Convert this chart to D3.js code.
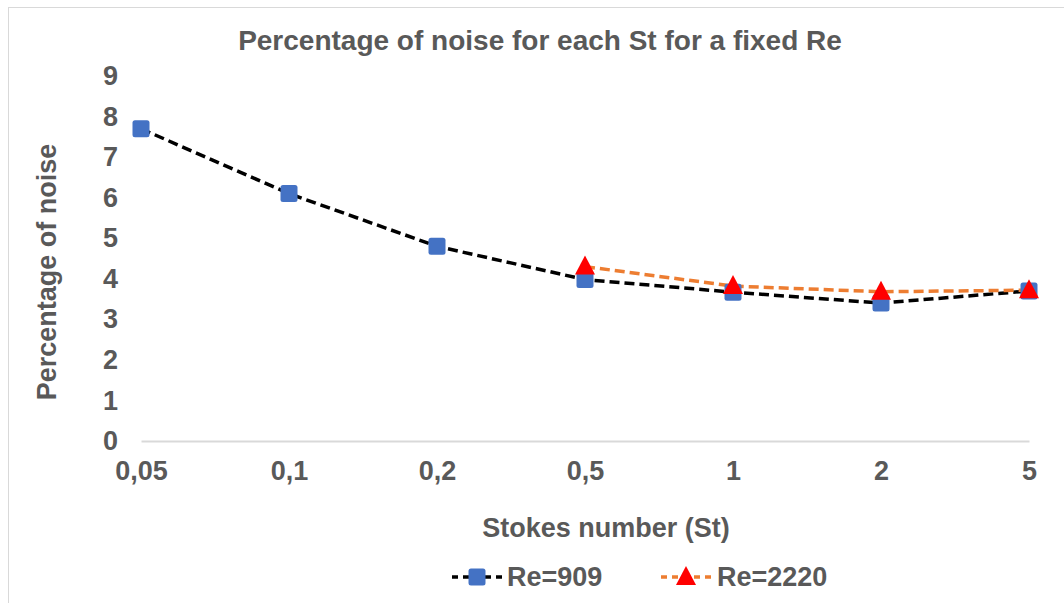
<!DOCTYPE html>
<html>
<head>
<meta charset="utf-8">
<script src="https://cdn.jsdelivr.net/npm/d3@7"></script>
<style>
  html, body { margin: 0; padding: 0; background: #fff; }
  svg { display: block; font-family: "Liberation Sans", Arial, sans-serif; }
</style>
</head>
<body>
<svg id="chart" width="1064" height="603"></svg>
<script>
// Stokes number categories (x axis)
const categories = ["0,05", "0,1", "0,2", "0,5", "1", "2", "5"];
// Percentage of noise, Re = 909
const re909 = [7.7, 6.1, 4.8, 3.98, 3.67, 3.4, 3.7];
// Percentage of noise, Re = 2220 (measured from St = 0.5 on)
const re2220 = [null, null, null, 4.3, 3.82, 3.68, 3.72];
// Y axis ticks
const yTicks = [0, 1, 2, 3, 4, 5, 6, 7, 8, 9];

const textColor = "#595959";
const fontSize = 27;
const svg = d3.select("#chart");

// chart frame
svg.append("rect")
  .attr("x", 8.5).attr("y", 7.5)
  .attr("width", 1064).attr("height", 603)
  .attr("fill", "#fff").attr("stroke", "#d9d9d9").attr("stroke-width", 1);

const x = d3.scalePoint().domain(categories).range([141, 1029]);
const y = d3.scaleLinear().domain([0, 9]).range([441, 76]);

// title
svg.append("text")
  .attr("x", 540).attr("y", 50)
  .attr("text-anchor", "middle")
  .attr("font-size", 28).attr("font-weight", "bold")
  .attr("fill", textColor)
  .text("Percentage of noise for each St for a fixed Re");

// y axis (labels only)
const yAxis = svg.append("g")
  .attr("transform", "translate(125,0)")
  .call(d3.axisLeft(y).tickValues(yTicks).tickSize(0).tickPadding(7).tickFormat(d3.format("d")));
yAxis.select(".domain").remove();
yAxis.selectAll("text")
  .attr("font-size", fontSize).attr("font-weight", "bold")
  .attr("fill", textColor).attr("font-family", "Liberation Sans, Arial, sans-serif");

// x axis with baseline
const xAxis = svg.append("g")
  .attr("transform", `translate(0,${y(0)})`)
  .call(d3.axisBottom(x).tickSize(0).tickPadding(20));
xAxis.select(".domain").attr("stroke", "#d9d9d9").attr("stroke-width", 2);
xAxis.selectAll("text")
  .attr("font-size", fontSize).attr("font-weight", "bold")
  .attr("fill", textColor).attr("font-family", "Liberation Sans, Arial, sans-serif");

// axis titles
svg.append("text")
  .attr("transform", "translate(56,272) rotate(-90)")
  .attr("text-anchor", "middle")
  .attr("font-size", fontSize).attr("font-weight", "bold")
  .attr("fill", textColor)
  .text("Percentage of noise");

svg.append("text")
  .attr("x", 606).attr("y", 537)
  .attr("text-anchor", "middle")
  .attr("font-size", fontSize).attr("font-weight", "bold")
  .attr("fill", textColor)
  .text("Stokes number (St)");

const series = [
  { name: "Re=909", values: re909, line: "#000000", marker: "square", fill: "#4472C4" },
  { name: "Re=2220", values: re2220, line: "#ED7D31", marker: "triangle", fill: "#FF0000" }
];

const line = d3.line()
  .defined(d => d.v != null)
  .x(d => x(d.c))
  .y(d => y(d.v));

function drawMarker(g, s, cx, cy) {
  if (s.marker === "square") {
    g.append("rect")
      .attr("x", cx - 8.5).attr("y", cy - 8.5)
      .attr("width", 17).attr("height", 17)
      .attr("rx", 2.5)
      .attr("fill", s.fill);
  } else {
    g.append("path")
      .attr("d", `M${cx},${cy - 11}L${cx + 10},${cy + 8}L${cx - 10},${cy + 8}Z`)
      .attr("fill", s.fill);
  }
}

// lines first, then markers on top
series.forEach(s => {
  const pts = categories.map((c, i) => ({ c, v: s.values[i] }));
  svg.append("path")
    .datum(pts)
    .attr("d", line)
    .attr("fill", "none")
    .attr("stroke", s.line)
    .attr("stroke-width", 3.5)
    .attr("stroke-dasharray", "10,5");
});
series.forEach(s => {
  const g = svg.append("g");
  categories.forEach((c, i) => {
    if (s.values[i] != null) drawMarker(g, s, x(c), y(s.values[i]));
  });
});

// legend
const legendItems = [
  { s: series[0], x0: 452, tx: 507 },
  { s: series[1], x0: 661, tx: 717 }
];
legendItems.forEach(({ s, x0, tx }) => {
  const ly = 577;
  svg.append("line")
    .attr("x1", x0).attr("x2", x0 + 50)
    .attr("y1", ly).attr("y2", ly)
    .attr("stroke", s.line).attr("stroke-width", 3.5)
    .attr("stroke-dasharray", "6,5");
  drawMarker(svg, s, x0 + 25, ly);
  svg.append("text")
    .attr("x", tx).attr("y", ly + 9)
    .attr("font-size", fontSize).attr("font-weight", "bold")
    .attr("fill", textColor)
    .text(s.name);
});
</script>
</body>
</html>
